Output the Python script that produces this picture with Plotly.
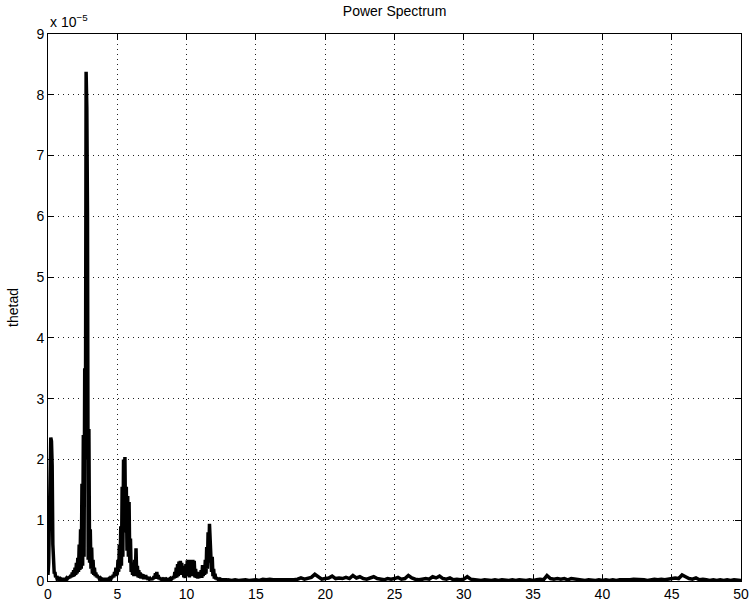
import numpy as np
import plotly.graph_objects as go

# Power spectrum of "thetad" (values in units of 1e-5)
# Dense part: 0.00 .. 12.95 Hz, step 0.05 (one row per Hz)
power_dense_e5 = [
    0.10, 0.30, 1.00, 2.30, 2.36, 2.30, 1.90, 0.60, 0.25, 0.12, 0.15, 0.06, 0.08, 0.04, 0.05, 0.03, 0.04, 0.03, 0.04, 0.03,
    0.03, 0.04, 0.03, 0.04, 0.03, 0.04, 0.03, 0.05, 0.04, 0.06, 0.04, 0.08, 0.05, 0.10, 0.06, 0.14, 0.07, 0.18, 0.08, 0.22,
    0.10, 0.30, 0.12, 0.38, 0.15, 0.60, 0.18, 0.85, 0.20, 1.60, 0.25, 2.40, 0.40, 3.50, 2.00, 8.38, 7.80, 6.00, 0.35, 2.50,
    0.30, 0.85, 0.20, 0.55, 0.12, 0.35, 0.10, 0.22, 0.08, 0.14, 0.06, 0.10, 0.05, 0.07, 0.04, 0.05, 0.03, 0.04, 0.03, 0.03,
    0.03, 0.02, 0.03, 0.02, 0.03, 0.02, 0.03, 0.03, 0.04, 0.03, 0.05, 0.04, 0.07, 0.05, 0.10, 0.06, 0.15, 0.08, 0.22, 0.10,
    0.12, 0.35, 0.15, 0.60, 0.20, 0.90, 0.25, 1.55, 0.40, 2.00, 1.00, 2.04, 0.80, 1.55, 0.50, 1.40, 0.40, 1.30, 0.30, 0.70,
    0.15, 0.30, 0.10, 0.20, 0.08, 0.35, 0.10, 0.54, 0.08, 0.25, 0.06, 0.18, 0.05, 0.14, 0.04, 0.12, 0.04, 0.11, 0.03, 0.09,
    0.03, 0.10, 0.03, 0.07, 0.02, 0.05, 0.03, 0.04, 0.02, 0.04, 0.02, 0.05, 0.03, 0.08, 0.04, 0.13, 0.05, 0.15, 0.04, 0.10,
    0.03, 0.06, 0.02, 0.04, 0.02, 0.03, 0.02, 0.03, 0.02, 0.03, 0.02, 0.03, 0.02, 0.04, 0.02, 0.03, 0.02, 0.04, 0.03, 0.05,
    0.03, 0.08, 0.04, 0.15, 0.05, 0.22, 0.06, 0.28, 0.08, 0.32, 0.10, 0.33, 0.12, 0.30, 0.10, 0.25, 0.06, 0.15, 0.05, 0.28,
    0.08, 0.34, 0.10, 0.35, 0.06, 0.35, 0.10, 0.34, 0.08, 0.35, 0.10, 0.33, 0.06, 0.20, 0.05, 0.15, 0.04, 0.12, 0.05, 0.15,
    0.06, 0.18, 0.05, 0.26, 0.08, 0.22, 0.10, 0.35, 0.12, 0.56, 0.20, 0.80, 0.30, 0.94, 0.50, 0.60, 0.15, 0.40, 0.08, 0.20,
    0.04, 0.12, 0.03, 0.06, 0.02, 0.04, 0.02, 0.03, 0.02, 0.03, 0.02, 0.02, 0.01, 0.02, 0.02, 0.03, 0.02, 0.02, 0.01, 0.02,
]
freq_dense = np.round(np.arange(len(power_dense_e5)) * 0.05, 2)

# Tail: 13.00 .. 50.00 Hz, step 0.25 (one row per Hz)
power_tail_e5 = [
    0.02, 0.01, 0.02, 0.01,
    0.02, 0.02, 0.01, 0.02,
    0.02, 0.01, 0.03, 0.02,
    0.03, 0.02, 0.02, 0.01,
    0.02, 0.02, 0.01, 0.02,
    0.03, 0.05, 0.03, 0.04,
    0.06, 0.11, 0.07, 0.03,
    0.04, 0.05, 0.08, 0.04,
    0.05, 0.04, 0.06, 0.04,
    0.09, 0.05, 0.07, 0.04,
    0.03, 0.05, 0.07, 0.04,
    0.03, 0.02, 0.04, 0.03,
    0.04, 0.06, 0.03, 0.04,
    0.09, 0.05, 0.03, 0.02,
    0.03, 0.04, 0.03, 0.07,
    0.05, 0.08, 0.04, 0.03,
    0.05, 0.02, 0.03, 0.02,
    0.03, 0.07, 0.03, 0.02,
    0.02, 0.01, 0.02, 0.01,
    0.01, 0.02, 0.01, 0.02,
    0.01, 0.01, 0.02, 0.01,
    0.02, 0.01, 0.01, 0.02,
    0.01, 0.02, 0.03, 0.02,
    0.09, 0.04, 0.03, 0.04,
    0.03, 0.04, 0.02, 0.04,
    0.03, 0.02, 0.02, 0.01,
    0.02, 0.01, 0.01, 0.02,
    0.01, 0.02, 0.01, 0.02,
    0.01, 0.02, 0.02, 0.01,
    0.02, 0.03, 0.03, 0.02,
    0.02, 0.01, 0.02, 0.03,
    0.02, 0.03, 0.02, 0.03,
    0.03, 0.05, 0.04, 0.10,
    0.07, 0.04, 0.03, 0.05,
    0.02, 0.03, 0.02, 0.01,
    0.02, 0.01, 0.02, 0.01,
    0.02, 0.01, 0.02, 0.01,
    0.01,
]
freq_tail = np.round(13.0 + np.arange(len(power_tail_e5)) * 0.25, 2)

freq = np.concatenate([freq_dense, freq_tail])
power = np.concatenate([power_dense_e5, power_tail_e5])

x_ticks = list(range(0, 51, 5))
y_ticks = list(range(0, 10))

FONT = "Liberation Sans, Arial, Helvetica, sans-serif"

fig = go.Figure()
fig.add_trace(go.Scatter(
    x=freq, y=power, mode="lines",
    line=dict(color="black", width=3.5),
    showlegend=False, hoverinfo="skip",
))

axis_common = dict(
    showline=True, linecolor="black", linewidth=1, mirror="ticks",
    ticks="inside", ticklen=6, tickcolor="black", tickwidth=1,
    showgrid=True, gridcolor="#222222", gridwidth=1, griddash="1px,4px",
    zeroline=False, automargin=False,
    tickfont=dict(family=FONT, size=14, color="black"),
)

fig.update_xaxes(range=[0, 50], tickvals=x_ticks, ticktext=[str(v) for v in x_ticks], **axis_common)
fig.update_yaxes(range=[0, 9], tickvals=y_ticks, ticktext=[str(v) for v in y_ticks],
                 title=dict(text="thetad", font=dict(family=FONT, size=14, color="black"), standoff=14),
                 **axis_common)

fig.update_layout(
    width=753, height=605,
    margin=dict(l=48, r=12, t=34, b=24, autoexpand=False),
    paper_bgcolor="white", plot_bgcolor="white",
    title=dict(text="Power Spectrum", x=0.524, xanchor="center", y=1 - 11 / 605, yanchor="middle",
               font=dict(family=FONT, size=14, color="black")),
    annotations=[dict(
        text="x 10<sup>−5</sup>", xref="paper", yref="paper", x=0, y=1,
        xanchor="left", yanchor="bottom", yshift=2, showarrow=False,
        font=dict(family=FONT, size=14, color="black"),
    )],
)

fig.write_html("out.html")
